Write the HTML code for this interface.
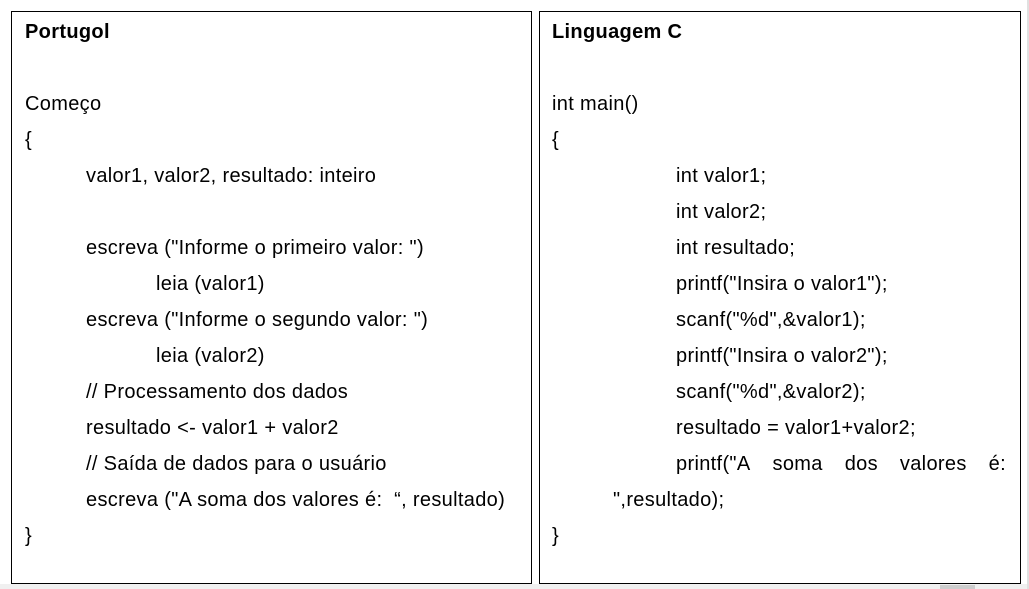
<!DOCTYPE html>
<html><head><meta charset="utf-8"><style>
html,body{margin:0;padding:0;background:#fff;width:1029px;height:589px;overflow:hidden;position:relative;font-family:"Liberation Sans",Arial,sans-serif;font-size:20px;letter-spacing:0.33px;color:#000}
.box{position:absolute;top:11px;height:573px;border:1px solid #000;box-sizing:border-box}
.l{position:absolute;height:36px;line-height:36px;white-space:pre}
b{font-weight:bold}
</style></head><body>
<div style="position:absolute;left:0;top:584px;width:1029px;height:5px;background:#f0f0f0"></div>
<div style="position:absolute;left:940px;top:585px;width:35px;height:4px;background:#cdcdcd"></div>
<div style="position:absolute;left:1027px;top:0;width:2px;height:589px;background:#e0e0e0"></div>
<div class="box" style="left:11px;width:521px"></div>
<div class="box" style="left:539px;width:482px"></div>

<div class="l" style="left:25px;top:14px"><b>Portugol</b></div>
<div class="l" style="left:25px;top:86px">Começo</div>
<div class="l" style="left:25px;top:122px">{</div>
<div class="l" style="left:86px;top:158px">valor1, valor2, resultado: inteiro</div>
<div class="l" style="left:86px;top:230px">escreva ("Informe o primeiro valor: ")</div>
<div class="l" style="left:156px;top:266px">leia (valor1)</div>
<div class="l" style="left:86px;top:302px">escreva ("Informe o segundo valor: ")</div>
<div class="l" style="left:156px;top:338px">leia (valor2)</div>
<div class="l" style="left:86px;top:374px">// Processamento dos dados</div>
<div class="l" style="left:86px;top:410px">resultado &lt;- valor1 + valor2</div>
<div class="l" style="left:86px;top:446px">// Saída de dados para o usuário</div>
<div class="l" style="left:86px;top:482px">escreva ("A soma dos valores é:  “, resultado)</div>
<div class="l" style="left:25px;top:518px">}</div>

<div class="l" style="left:552px;top:14px"><b>Linguagem C</b></div>
<div class="l" style="left:552px;top:86px">int main()</div>
<div class="l" style="left:552px;top:122px">{</div>
<div class="l" style="left:676px;top:158px">int valor1;</div>
<div class="l" style="left:676px;top:194px">int valor2;</div>
<div class="l" style="left:676px;top:230px">int resultado;</div>
<div class="l" style="left:676px;top:266px">printf("Insira o valor1");</div>
<div class="l" style="left:676px;top:302px">scanf("%d",&amp;valor1);</div>
<div class="l" style="left:676px;top:338px">printf("Insira o valor2");</div>
<div class="l" style="left:676px;top:374px">scanf("%d",&amp;valor2);</div>
<div class="l" style="left:676px;top:410px">resultado = valor1+valor2;</div>
<div class="l" style="left:676px;top:446px;width:330px;display:flex;justify-content:space-between"><span>printf("A</span><span>soma</span><span>dos</span><span>valores</span><span>é:</span></div>
<div class="l" style="left:613px;top:482px">",resultado);</div>
<div class="l" style="left:552px;top:518px">}</div>
</body></html>
